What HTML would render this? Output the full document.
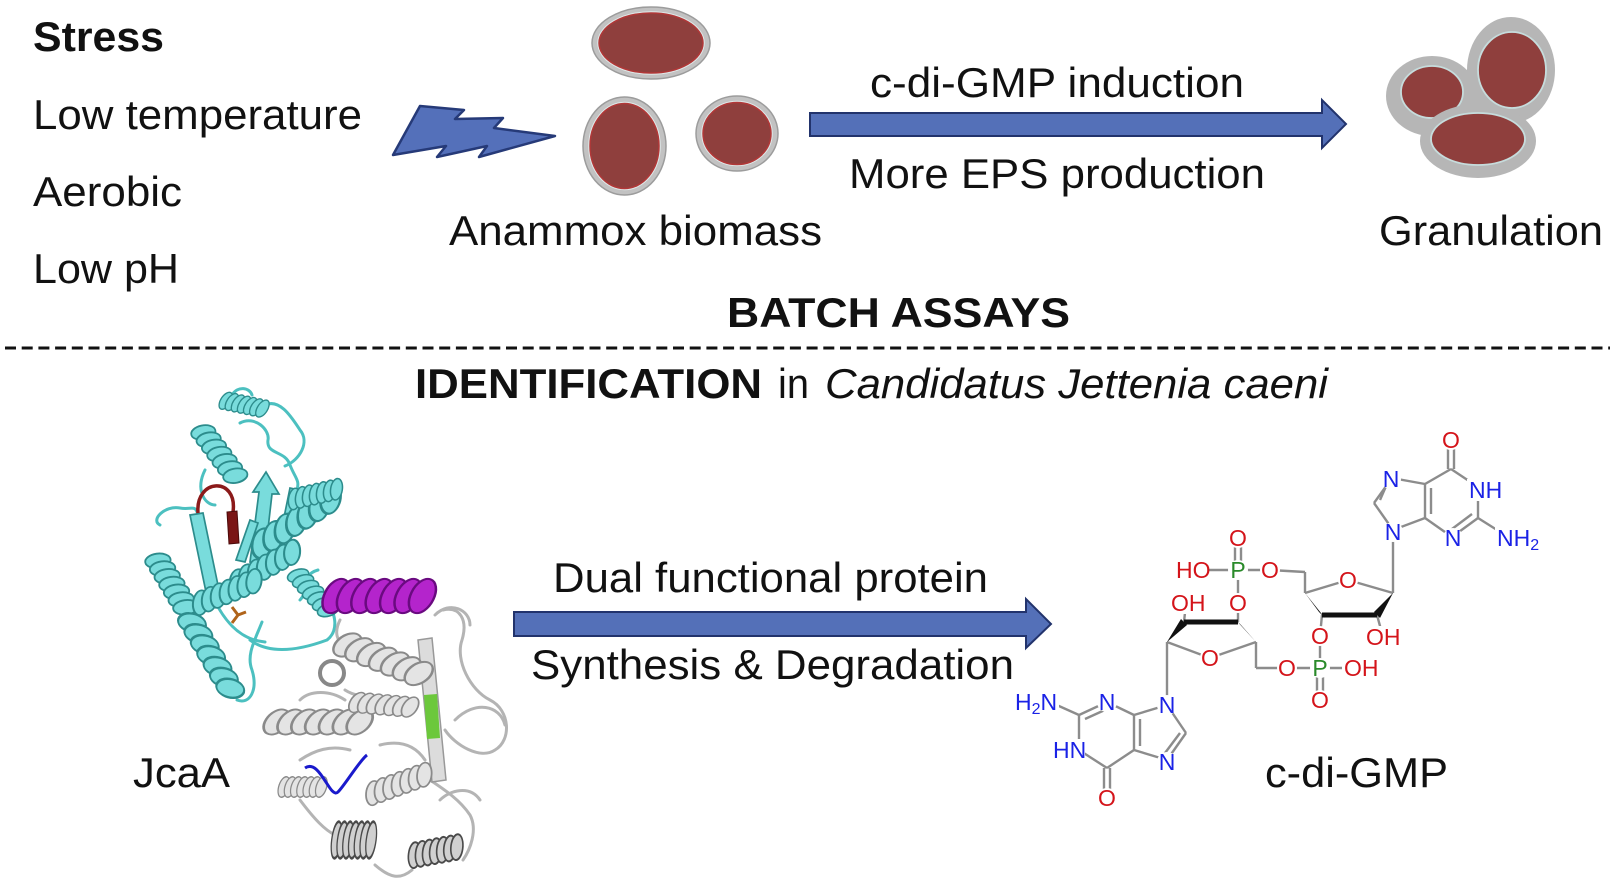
<!DOCTYPE html>
<html><head><meta charset="utf-8"><style>
html,body{margin:0;padding:0;background:#fff;}
svg{display:block;}
text{font-family:"Liberation Sans",Arial,sans-serif;}
.t{font-size:42px;fill:#111;}
.b{font-weight:bold;}
.lab{font-size:23px;}
.N{fill:#1a22e6;}
.O{fill:#d4141a;}
.P{fill:#2a8a2a;}
.bd{stroke:#8c8c8c;stroke-width:2.4;fill:none;}
</style></head><body>
<svg width="1614" height="886" viewBox="0 0 1614 886" xmlns="http://www.w3.org/2000/svg">
<defs>
<g id="hx">
<ellipse cx="5" cy="0" rx="6.5" ry="12" transform="rotate(22 5 0)"/>
<ellipse cx="13" cy="0" rx="6.5" ry="12" transform="rotate(22 13 0)"/>
<ellipse cx="21" cy="0" rx="6.5" ry="12" transform="rotate(22 21 0)"/>
<ellipse cx="29" cy="0" rx="6.5" ry="12" transform="rotate(22 29 0)"/>
<ellipse cx="37" cy="0" rx="6.5" ry="12" transform="rotate(22 37 0)"/>
<ellipse cx="45" cy="0" rx="6.5" ry="12" transform="rotate(22 45 0)"/>
<ellipse cx="53" cy="0" rx="6.5" ry="12" transform="rotate(22 53 0)"/>
</g>
</defs>
<rect width="1614" height="886" fill="#fff"/>

<!-- left stress texts -->
<text class="t b" x="33" y="51" font-size="39" textLength="131" lengthAdjust="spacingAndGlyphs">Stress</text>
<text class="t" x="33" y="129" textLength="329" lengthAdjust="spacingAndGlyphs">Low temperature</text>
<text class="t" x="33" y="206" textLength="149" lengthAdjust="spacingAndGlyphs">Aerobic</text>
<text class="t" x="33" y="283" textLength="146" lengthAdjust="spacingAndGlyphs">Low pH</text>

<!-- lightning -->
<polygon points="393,155 420,106 464,110 455,119 503,118 494,128 555,136 479,157 487,146 437,157 446,146" fill="#5470ba" stroke="#263a78" stroke-width="2.5" stroke-linejoin="round"/>

<!-- cells -->
<g stroke-width="1.5">
<ellipse cx="651" cy="43" rx="59" ry="36" fill="#c2c2c2" stroke="#9c9c9c"/>
<ellipse cx="651" cy="43" rx="53" ry="31" fill="none" stroke="#dfe9e9"/>
<ellipse cx="651" cy="43" rx="52" ry="30" fill="#8f3f3d" stroke="#b23838"/>
<ellipse cx="624.5" cy="146" rx="41.5" ry="49" fill="#c2c2c2" stroke="#9c9c9c"/>
<ellipse cx="624.5" cy="146" rx="35.5" ry="43.5" fill="none" stroke="#dfe9e9"/>
<ellipse cx="624.5" cy="146" rx="34.5" ry="42.5" fill="#8f3f3d" stroke="#b23838"/>
<ellipse cx="737" cy="133.5" rx="41" ry="37.5" fill="#c2c2c2" stroke="#9c9c9c"/>
<ellipse cx="737" cy="133.5" rx="35" ry="32" fill="none" stroke="#dfe9e9"/>
<ellipse cx="737" cy="133.5" rx="34" ry="31" fill="#8f3f3d" stroke="#b23838"/>
</g>
<text class="t" x="449" y="245" textLength="373" lengthAdjust="spacingAndGlyphs">Anammox biomass</text>

<!-- top arrow -->
<polygon points="810,113 1322,113 1322,100 1346,124 1322,148 1322,136 810,136" fill="#5470b8" stroke="#22336c" stroke-width="2" stroke-linejoin="miter"/>
<text class="t" x="870" y="97" font-size="40" textLength="374" lengthAdjust="spacingAndGlyphs">c-di-GMP induction</text>
<text class="t" x="849" y="188" font-size="41" textLength="416" lengthAdjust="spacingAndGlyphs">More EPS production</text>

<!-- granule -->
<g>
<ellipse cx="1432" cy="96" rx="46" ry="40" fill="#b6b6b6"/>
<ellipse cx="1511" cy="70" rx="44" ry="53" fill="#b6b6b6"/>
<polygon points="1432,96 1511,70 1520,140 1440,140" fill="#b6b6b6"/>
<ellipse cx="1432" cy="92" rx="31" ry="26" fill="#8f3f3d" stroke="#c6dcdc" stroke-width="1.8"/>
<ellipse cx="1512" cy="70" rx="34" ry="38" fill="#8f3f3d" stroke="#c6dcdc" stroke-width="1.8"/>
<ellipse cx="1478" cy="141" rx="58" ry="37" fill="#b6b6b6"/>
<ellipse cx="1478" cy="139" rx="47" ry="26" fill="#8f3f3d" stroke="#c6dcdc" stroke-width="1.8"/>
</g>
<text class="t" x="1379" y="245" textLength="224" lengthAdjust="spacingAndGlyphs">Granulation</text>

<!-- middle -->
<text class="t b" x="727" y="327" textLength="343" lengthAdjust="spacingAndGlyphs">BATCH ASSAYS</text>
<line x1="5" y1="348" x2="1610" y2="348" stroke="#111" stroke-width="3" stroke-dasharray="11 5.7"/>
<text class="t b" x="415" y="398" textLength="347" lengthAdjust="spacingAndGlyphs">IDENTIFICATION</text>
<text class="t" x="778" y="398" textLength="31" lengthAdjust="spacingAndGlyphs">in</text>
<text class="t" x="825" y="398" font-style="italic" textLength="503" lengthAdjust="spacingAndGlyphs">Candidatus Jettenia caeni</text>

<!-- bottom arrow -->
<polygon points="514,612 1026,612 1026,599 1051,624 1026,648 1026,636 514,636" fill="#5470b8" stroke="#22336c" stroke-width="2"/>
<text class="t" x="553" y="592" textLength="435" lengthAdjust="spacingAndGlyphs">Dual functional protein</text>
<text class="t" x="531" y="679" textLength="483" lengthAdjust="spacingAndGlyphs">Synthesis &amp; Degradation</text>

<!-- protein: cyan domain -->
<g fill="none" stroke="#4cc0c0" stroke-width="3" stroke-linecap="round">
<path d="M240,423 C255,415 270,430 268,440 C266,455 285,450 290,465 C295,478 300,480 297,490"/>
<path d="M265,405 C280,398 292,418 300,430 C310,442 300,460 285,466"/>
<path d="M232,395 C238,385 250,388 252,395"/>
<path d="M160,525 C150,520 165,505 180,508 C190,510 195,505 197,512"/>
<path d="M250,640 C270,655 300,650 327,640 C340,630 335,610 325,600"/>
<path d="M237,700 C250,705 258,690 252,670 C246,655 255,640 262,622"/>
<path d="M210,590 C222,620 240,640 265,642"/>
<path d="M300,600 C310,590 300,575 318,570"/>
<path d="M205,470 C195,490 205,505 215,505"/>
</g>
<g fill="#79dcdc" stroke="#2c8c8c" stroke-width="1.7">
<polygon points="190,515 203,513 219,590 206,592"/>
<polygon points="250,562 259,492 253,492 266,472 279,494 272,494 264,564"/>
<polygon points="281,532 290,488 299,490 291,534"/>
<polygon points="236,560 250,520 258,523 245,562"/>
<use href="#hx" transform="translate(222,400) rotate(12) scale(0.78,0.8)"/>
<use href="#hx" transform="translate(200,428) rotate(53.5) scale(1.12,1)"/>
<use href="#hx" transform="translate(155,556) rotate(59) scale(1.13,1.05)"/>
<use href="#hx" transform="translate(188,616) rotate(59.7) scale(1.58,1.05)"/>
<use href="#hx" transform="translate(255,548) rotate(-33) scale(1.7,1.1)"/>
<use href="#hx" transform="translate(232,585) rotate(-28.5) scale(1.29,1)"/>
<use href="#hx" transform="translate(295,572) rotate(49) scale(0.95,0.9)"/>
<use href="#hx" transform="translate(195,605) rotate(-22) scale(1.2,1)"/>
<use href="#hx" transform="translate(290,500) rotate(-13) scale(0.9,0.9)"/>
</g>
<path d="M198,513 C195,478 238,476 233,512" fill="none" stroke="#8b1a1a" stroke-width="3.5"/>
<polygon points="227,512 237,511 239,543 229,544" fill="#7a1515" stroke="#4a0a0a" stroke-width="1"/>
<path d="M232,607 L238,615 L232,623 M238,615 L246,612" fill="none" stroke="#b0641a" stroke-width="3"/>

<!-- gray domain -->
<g fill="none" stroke="#b4b4b4" stroke-width="3" stroke-linecap="round">
<path d="M435,615 C450,600 470,610 470,625"/>
<path d="M443,610 C460,606 468,620 462,640 C455,660 470,690 490,700 C510,710 512,740 495,750 C480,760 455,745 445,730"/>
<path d="M300,700 C310,690 330,690 345,700"/>
<path d="M345,690 C360,700 380,695 400,700"/>
<path d="M300,760 C315,750 330,745 350,750"/>
<path d="M380,745 C400,740 415,745 425,760"/>
<path d="M430,780 C445,790 460,800 470,815 C478,830 470,850 463,860"/>
<path d="M300,800 C315,820 325,830 335,835"/>
<path d="M375,865 C390,878 400,880 412,870"/>
<path d="M440,800 C450,790 470,785 480,800"/>
<path d="M455,720 C475,700 500,705 505,725"/>
<path d="M340,620 C330,640 345,650 355,640"/>
</g>
<circle cx="332" cy="673" r="12" fill="none" stroke="#888" stroke-width="4"/>
<polygon points="418,640 432,638 446,780 432,782" fill="#dcdcdc" stroke="#999" stroke-width="1.5"/>
<polygon points="424,695 437,694 440,738 427,739" fill="#6cc83c"/>
<g fill="#e4e4e4" stroke="#8a8a8a" stroke-width="1.6">
<use href="#hx" transform="translate(340,642) rotate(21.8) scale(1.6,1.2)"/>
<use href="#hx" transform="translate(268,722) rotate(0) scale(1.73,1.1)"/>
<use href="#hx" transform="translate(280,787) rotate(0) scale(0.78,0.9)"/>
<use href="#hx" transform="translate(368,795) rotate(-19.8) scale(1.13,1)"/>
<use href="#hx" transform="translate(352,702) rotate(5) scale(1.1,0.9)"/>
</g>
<g fill="#d0d0d0" stroke="#4a4a4a" stroke-width="1.8">
<use href="#hx" transform="translate(333,840) rotate(0) scale(0.72,1.6)"/>
<use href="#hx" transform="translate(410,856) rotate(-10.7) scale(0.9,1.1)"/>
</g>
<use href="#hx" transform="translate(327,596) scale(1.8,1.5)" fill="#b424cc" stroke="#6a0a80" stroke-width="1.4"/>
<path d="M305,768 C320,758 330,800 338,792 C345,785 360,760 367,755" fill="none" stroke="#1a1acc" stroke-width="3"/>
<text class="t" x="133" y="787" textLength="97" lengthAdjust="spacingAndGlyphs">JcaA</text>

<!-- c-di-GMP molecule bonds -->
<g class="bd">
<line x1="1448" y1="442" x2="1448" y2="469"/><line x1="1454" y1="442" x2="1454" y2="469"/>
<line x1="1451" y1="469" x2="1478" y2="487"/>
<line x1="1478" y1="490" x2="1478" y2="518"/>
<line x1="1478" y1="518" x2="1452" y2="537"/><line x1="1472" y1="514" x2="1452" y2="529"/>
<line x1="1452" y1="537" x2="1425" y2="518"/>
<line x1="1425" y1="518" x2="1425" y2="484"/><line x1="1431" y1="514" x2="1431" y2="488"/>
<line x1="1425" y1="484" x2="1451" y2="469"/>
<line x1="1425" y1="484" x2="1392" y2="478"/>
<line x1="1392" y1="478" x2="1374" y2="503"/><line x1="1387" y1="484" x2="1380" y2="500"/>
<line x1="1374" y1="503" x2="1393" y2="530"/>
<line x1="1393" y1="530" x2="1425" y2="518"/>
<line x1="1478" y1="518" x2="1505" y2="535"/>
<line x1="1393" y1="530" x2="1393" y2="593"/>
<line x1="1393" y1="593" x2="1348" y2="580"/>
<line x1="1348" y1="580" x2="1305" y2="593"/>
<line x1="1377" y1="615" x2="1383" y2="637"/>
<line x1="1322" y1="615" x2="1320" y2="636"/>
<line x1="1305" y1="593" x2="1305" y2="572"/>
<line x1="1305" y1="572" x2="1270" y2="570"/>
<line x1="1270" y1="570" x2="1205" y2="570"/>
<line x1="1235" y1="538" x2="1235" y2="570"/><line x1="1241" y1="538" x2="1241" y2="570"/>
<line x1="1238" y1="570" x2="1238" y2="603"/>
<line x1="1238" y1="603" x2="1238" y2="622"/>
<line x1="1320" y1="636" x2="1320" y2="668"/>
<line x1="1320" y1="668" x2="1348" y2="668"/>
<line x1="1317" y1="668" x2="1317" y2="700"/><line x1="1323" y1="668" x2="1323" y2="700"/>
<line x1="1320" y1="668" x2="1287" y2="668"/>
<line x1="1287" y1="668" x2="1256" y2="668"/>
<line x1="1256" y1="668" x2="1256" y2="642"/>
<line x1="1167" y1="642" x2="1210" y2="658"/>
<line x1="1210" y1="658" x2="1256" y2="642"/>
<line x1="1184" y1="622" x2="1186" y2="603"/>
<line x1="1167" y1="642" x2="1167" y2="705"/>
<line x1="1167" y1="705" x2="1186" y2="733"/>
<line x1="1186" y1="733" x2="1167" y2="760"/><line x1="1180" y1="733" x2="1165" y2="753"/>
<line x1="1167" y1="760" x2="1134" y2="750"/>
<line x1="1134" y1="750" x2="1134" y2="715"/><line x1="1140" y1="746" x2="1140" y2="719"/>
<line x1="1134" y1="715" x2="1167" y2="705"/>
<line x1="1134" y1="715" x2="1107" y2="702"/>
<line x1="1107" y1="702" x2="1079" y2="715"/><line x1="1107" y1="709" x2="1085" y2="719"/>
<line x1="1079" y1="715" x2="1050" y2="702"/>
<line x1="1079" y1="715" x2="1079" y2="750"/>
<line x1="1079" y1="750" x2="1107" y2="768"/>
<line x1="1107" y1="768" x2="1134" y2="750"/>
<line x1="1104" y1="768" x2="1104" y2="797"/><line x1="1110" y1="768" x2="1110" y2="797"/>
</g>
<g fill="#111">
<polygon points="1305,593 1319,612 1325,618"/>
<polygon points="1393,593 1374,612 1380,618"/>
<polygon points="1167,642 1181,619 1187,625"/>
<polygon points="1256,642 1235,619 1241,625"/>
</g>
<line x1="1322" y1="615" x2="1377" y2="615" stroke="#111" stroke-width="5"/>
<line x1="1184" y1="622" x2="1238" y2="622" stroke="#111" stroke-width="5"/>

<!-- white backgrounds for atom labels -->
<g fill="#fff">
<circle cx="1451" cy="440" r="10"/>
<circle cx="1453" cy="538" r="10"/>
<circle cx="1391" cy="479" r="10"/>
<circle cx="1393" cy="532" r="10"/>
<circle cx="1348" cy="580" r="10"/>
<circle cx="1320" cy="636" r="10"/>
<circle cx="1320" cy="668" r="10"/>
<circle cx="1320" cy="700" r="10"/>
<circle cx="1287" cy="668" r="10"/>
<circle cx="1238" cy="570" r="10"/>
<circle cx="1238" cy="538" r="10"/>
<circle cx="1270" cy="570" r="10"/>
<circle cx="1238" cy="603" r="10"/>
<circle cx="1210" cy="658" r="10"/>
<circle cx="1167" cy="705" r="10"/>
<circle cx="1167" cy="762" r="10"/>
<circle cx="1107" cy="702" r="10"/>
<circle cx="1107" cy="798" r="10"/>
<rect x="1467" y="479" width="34" height="22"/>
<rect x="1495" y="527" width="44" height="24"/>
<rect x="1364" y="626" width="34" height="22"/>
<rect x="1342" y="657" width="34" height="22"/>
<rect x="1174" y="559" width="34" height="22"/>
<rect x="1169" y="592" width="34" height="22"/>
<rect x="1013" y="691" width="46" height="24"/>
<rect x="1051" y="739" width="34" height="22"/>
</g>

<!-- atom labels -->
<g class="lab" text-anchor="middle">
<text class="O" x="1451" y="448">O</text>
<text class="N" x="1453" y="546">N</text>
<text class="N" x="1391" y="487">N</text>
<text class="N" x="1393" y="540">N</text>
<text class="O" x="1348" y="588">O</text>
<text class="O" x="1320" y="644">O</text>
<text class="P" x="1320" y="676">P</text>
<text class="O" x="1320" y="708">O</text>
<text class="O" x="1287" y="676">O</text>
<text class="P" x="1238" y="578">P</text>
<text class="O" x="1238" y="546">O</text>
<text class="O" x="1270" y="578">O</text>
<text class="O" x="1238" y="611">O</text>
<text class="O" x="1210" y="666">O</text>
<text class="N" x="1167" y="713">N</text>
<text class="N" x="1167" y="770">N</text>
<text class="N" x="1107" y="710">N</text>
<text class="O" x="1107" y="806">O</text>
</g>
<g class="lab">
<text class="N" x="1469" y="498">NH</text>
<text class="N" x="1497" y="546">NH<tspan font-size="16" dy="4">2</tspan></text>
<text class="O" x="1366" y="645">OH</text>
<text class="O" x="1344" y="676">OH</text>
<text class="O" x="1176" y="578">HO</text>
<text class="O" x="1171" y="611">OH</text>
<text class="N" x="1015" y="710">H<tspan font-size="16" dy="4">2</tspan><tspan dy="-4">N</tspan></text>
<text class="N" x="1053" y="758">HN</text>
</g>
<text class="t" x="1265" y="787" textLength="183" lengthAdjust="spacingAndGlyphs">c-di-GMP</text>
</svg>
</body></html>
